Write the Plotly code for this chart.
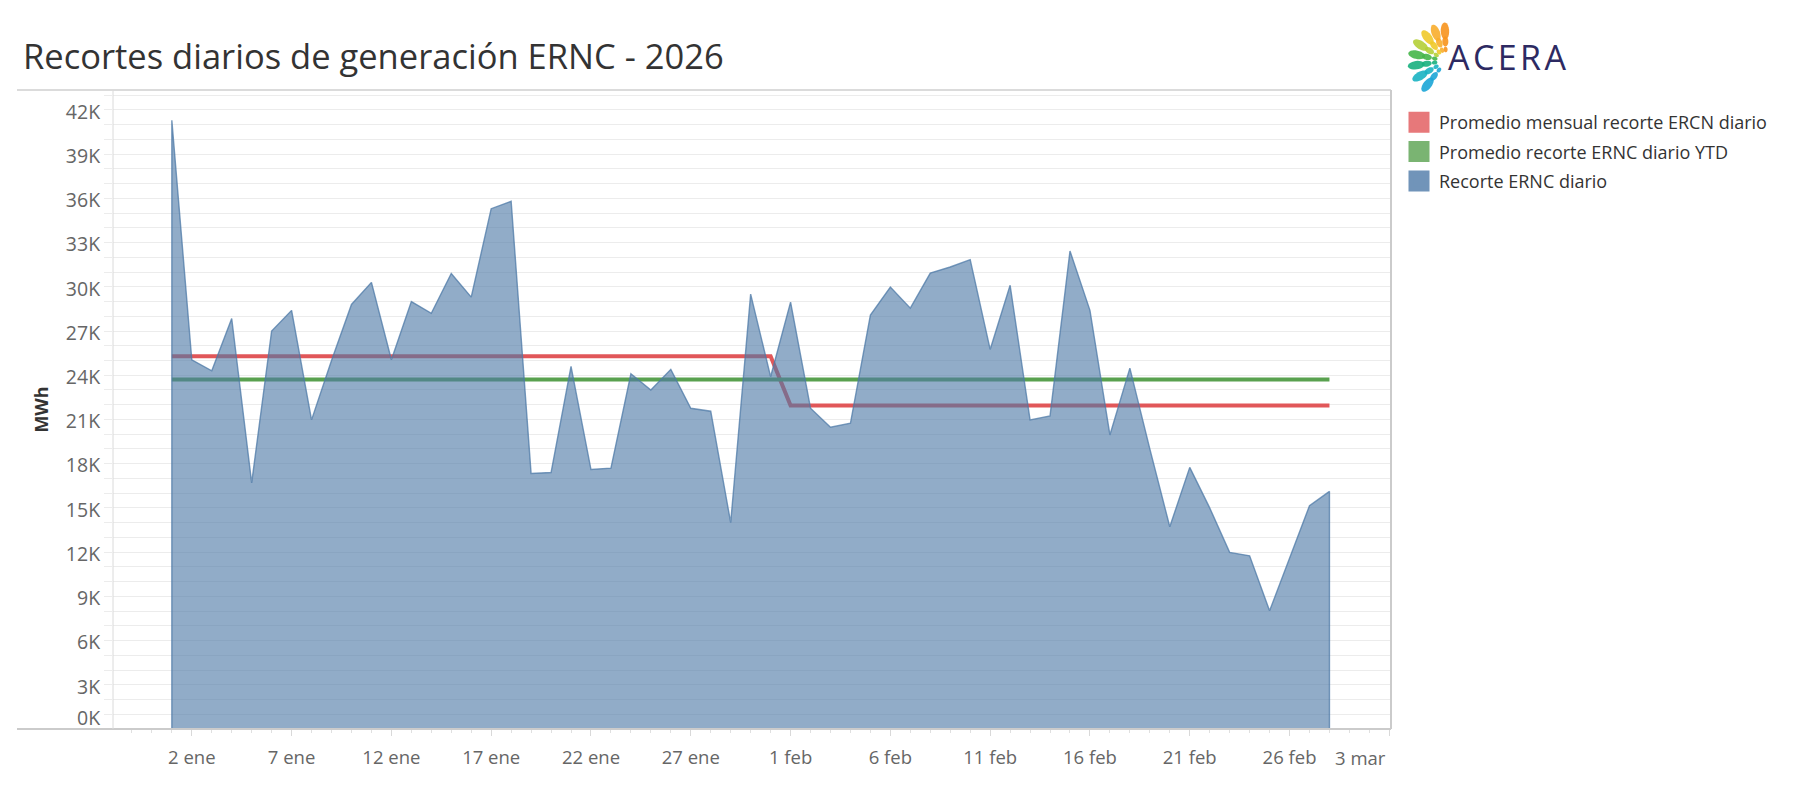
import math
import pandas as pd
import plotly.graph_objects as go

# ---------------- data ----------------
start_date = "2026-01-01"
end_date = "2026-02-28"
jan_values = [41300, 25050, 24300, 27850, 16700, 27000, 28400, 20970, 25000, 28800,
              30300, 25050, 29000, 28200, 30900, 29300, 35300, 35800, 17340, 17400,
              24600, 17600, 17700, 24100, 23000, 24400, 21760, 21560, 14000, 29500, 23900]
feb_values = [28960, 21760, 20470, 20740, 28080, 29980, 28550, 30930, 31340, 31840,
              25750, 30100, 20970, 21240, 32430, 28400, 19950, 24480, 19000, 13720,
              17750, 15000, 11980, 11750, 8020, 11640, 15150, 16120]
monthly_avg = {"2026-01": 25290, "2026-02": 21940}
ytd_avg = 23710

x_tick_dates = ["2026-01-02", "2026-01-07", "2026-01-12", "2026-01-17", "2026-01-22",
                "2026-01-27", "2026-02-01", "2026-02-06", "2026-02-11", "2026-02-16",
                "2026-02-21", "2026-02-26", "2026-03-03"]
x_tick_labels = ["2 ene", "7 ene", "12 ene", "17 ene", "22 ene", "27 ene", "1 feb",
                 "6 feb", "11 feb", "16 feb", "21 feb", "26 feb", "3 mar"]
y_tick_vals = [3000, 6000, 9000, 12000, 15000, 18000, 21000, 24000, 27000, 30000,
               33000, 36000, 39000, 42000]
y_tick_labels = ["3K", "6K", "9K", "12K", "15K", "18K", "21K", "24K", "27K", "30K",
                 "33K", "36K", "39K", "42K"]

names = ["Promedio mensual recorte ERCN diario",
         "Promedio recorte ERNC diario YTD",
         "Recorte ERNC diario"]

dates = list(pd.date_range(start_date, end_date, freq="D"))
values = jan_values + feb_values
monthly_line = [monthly_avg[d.strftime("%Y-%m")] for d in dates]
ytd_line = [ytd_avg for _ in dates]

RED = "#e15759"
GREEN = "#59a14f"
BLUE = "#4e79a7"
LEG_RED = "#e7787a"
LEG_GREEN = "#7ab472"
LEG_BLUE = "#7194b9"
FONT = "Open Sans"

# plot area in pixels
W, H = 1799, 792
L, R, T, B = 113, 1391, 90, 729
PW, PH = R - L, B - T


def px2paper(px, py):
    return (px - L) / PW, (B - py) / PH


fig = go.Figure()

fig.add_trace(go.Scatter(x=dates, y=monthly_line, mode="lines",
                         line=dict(color=RED, width=4), showlegend=False,
                         hoverinfo="skip"))
fig.add_trace(go.Scatter(x=dates, y=ytd_line, mode="lines",
                         line=dict(color=GREEN, width=4), showlegend=False,
                         hoverinfo="skip"))
fig.add_trace(go.Scatter(x=[dates[0]] + dates + [dates[-1]],
                         y=[0] + values + [0], mode="lines",
                         fill="tozeroy", fillcolor="rgba(78,121,167,0.62)",
                         line=dict(color="rgba(78,121,167,0.75)", width=1.4),
                         showlegend=False))

# legend entries
for nm, col in zip(names, [LEG_RED, LEG_GREEN, LEG_BLUE]):
    fig.add_trace(go.Scatter(x=[None], y=[None], mode="markers", name=nm,
                             legendgroup=nm,
                             marker=dict(symbol="square", size=16, color=col,
                                         line=dict(color=col, width=5))))

# ---------------- frame lines ----------------
shapes = []
x_left_ext, _ = px2paper(17, 0)
shapes.append(dict(type="line", xref="paper", yref="paper", x0=x_left_ext, x1=1,
                   y0=1, y1=1, line=dict(color="#cfcfcf", width=1.5)))
shapes.append(dict(type="line", xref="paper", yref="paper", x0=x_left_ext, x1=1,
                   y0=0, y1=0, line=dict(color="#cbcbcb", width=2)))
shapes.append(dict(type="line", xref="paper", yref="paper", x0=1, x1=1,
                   y0=0, y1=1, line=dict(color="#cbcbcb", width=2)))
shapes.append(dict(type="line", xref="paper", yref="paper", x0=0, x1=0,
                   y0=0, y1=1, line=dict(color="#dadada", width=1)))

# ---------------- logo petals ----------------
def ellipse_path(cx, cy, rx, ry, ang_deg, n=28):
    a = math.radians(ang_deg)
    pts = []
    for i in range(n):
        t = 2 * math.pi * i / n
        ex = rx * math.cos(t)
        ey = ry * math.sin(t)
        px = cx + ex * math.cos(a) - ey * math.sin(a)
        py = cy - (ex * math.sin(a) + ey * math.cos(a))
        pts.append(px2paper(px, py))
    return "M" + " L".join(f"{x:.5f},{y:.5f}" for x, y in pts) + " Z"


logo_cx, logo_cy = 1446, 61
ray_angles = [92, 110, 128, 148, 168, 188, 210, 232]
ray_colors = ["#f7941d", "#f8ad2c", "#efc92a", "#b5cf37", "#45b649",
              "#17b07e", "#1ab3c2", "#1ba5d6"]
for ang, col in zip(ray_angles, ray_colors):
    a = math.radians(ang)
    for dist, rx, ry in [(30, 8.5, 4.2), (19.5, 5.0, 3.0), (11.5, 2.8, 2.0)]:
        cx = logo_cx + dist * math.cos(a)
        cy = logo_cy - dist * math.sin(a)
        shapes.append(dict(type="path", xref="paper", yref="paper",
                           path=ellipse_path(cx, cy, rx, ry, ang),
                           fillcolor=col, opacity=0.9, line=dict(width=0)))

# ---------------- annotations ----------------
annotations = []
tx, ty = px2paper(21, 56)
annotations.append(dict(text="Recortes diarios de generación ERNC - 2026",
                        xref="paper", yref="paper", x=tx, y=ty,
                        xanchor="left", yanchor="middle", showarrow=False,
                        font=dict(family=FONT, size=34.5, color="#333333")))
ax_, ay_ = px2paper(1446, 57)
annotations.append(dict(text="A\u200aC\u200aE\u200aR\u200aA", xref="paper", yref="paper",
                        x=ax_, y=ay_, xanchor="left", yanchor="middle",
                        showarrow=False,
                        font=dict(family=FONT, size=34, weight=500, color="#2d2a62")))
zx, _ = px2paper(102, 0)
annotations.append(dict(text="0K", xref="paper", yref="y", x=zx, y=770,
                        xanchor="right", yanchor="middle", showarrow=False,
                        font=dict(family=FONT, size=19.5, color="#666666")))
mx, my = px2paper(1388, 757)
annotations.append(dict(text=x_tick_labels[-1], xref="paper", yref="paper", x=mx, y=my,
                        xanchor="right", yanchor="middle", showarrow=False,
                        font=dict(family=FONT, size=18.5, color="#666666")))

lx, ly = px2paper(1399, 104)

fig.update_layout(
    width=W, height=H, autosize=False,
    margin=dict(l=L, r=W - R, t=T, b=H - B, pad=0),
    paper_bgcolor="white", plot_bgcolor="white",
    font=dict(family=FONT, color="#666666"),
    showlegend=True,
    legend=dict(x=lx, y=ly, xanchor="left", yanchor="top",
                font=dict(family=FONT, size=18, color="#333333"),
                traceorder="grouped", tracegroupgap=3,
                bgcolor="rgba(0,0,0,0)", borderwidth=0),
    shapes=shapes,
    annotations=annotations,
    hovermode=False,
)

fig.update_xaxes(
    type="date",
    range=["2025-12-29 01:15", "2026-03-03 02:00"],
    tickmode="array", tickvals=x_tick_dates,
    ticktext=x_tick_labels[:-1] + [""],
    ticks="outside", ticklen=6, tickcolor="#d9d9d9", tickwidth=1,
    tickfont=dict(family=FONT, size=18.5, color="#666666"),
    ticklabelstandoff=6,
    showgrid=False, zeroline=False, showline=False,
    minor=dict(tickmode="linear", tick0="2026-01-01", dtick=86400000,
               ticks="outside", ticklen=3, tickcolor="#e0e0e0", showgrid=False),
)

fig.update_yaxes(
    range=[0, 43350],
    tickmode="array", tickvals=y_tick_vals, ticktext=y_tick_labels,
    ticks="outside", ticklen=8, tickcolor="#ececec",
    tickfont=dict(family=FONT, size=19.5, color="#666666"),
    ticklabelshift=2,
    showgrid=True, gridcolor="#ececec", gridwidth=1,
    zeroline=False, showline=False,
    minor=dict(tickmode="linear", tick0=0, dtick=1000, ticks="outside",
               ticklen=8, tickcolor="#ececec", showgrid=True,
               gridcolor="#ececec", gridwidth=1),
    title=dict(text="<b>MWh</b>", font=dict(family=FONT, size=18, color="#333333"),
               standoff=12),
)

fig.write_html("out.html")
